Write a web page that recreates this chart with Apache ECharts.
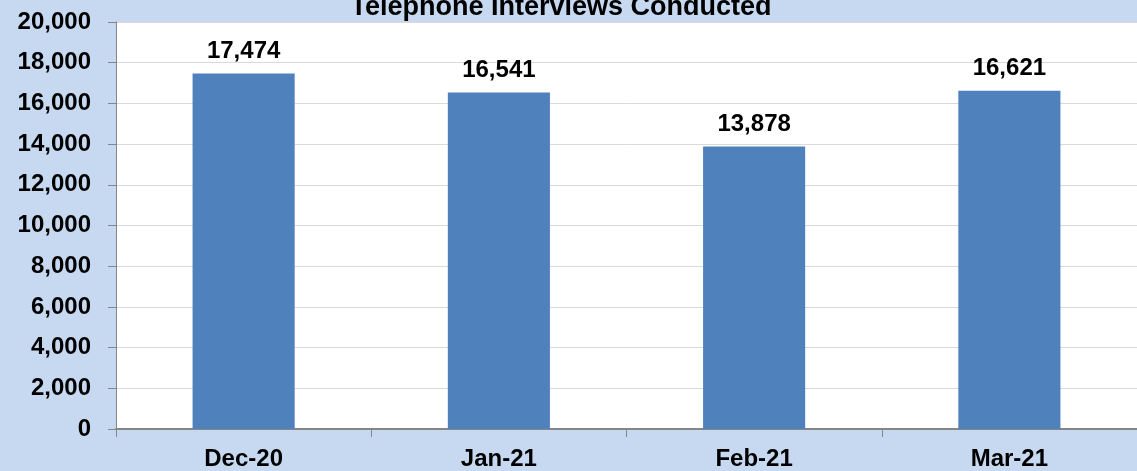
<!DOCTYPE html>
<html><head><meta charset="utf-8">
<script src="https://cdn.jsdelivr.net/npm/echarts@6/dist/echarts.min.js"></script>
<style>html,body{margin:0;padding:0;background:#c6d9f1}#c{width:1137px;height:471px}</style>
</head><body><div id="c"></div>
<script>
const categories = ['Dec-20', 'Jan-21', 'Feb-21', 'Mar-21'];
const interviews = [17474, 16541, 13878, 16621];
const titleText = 'Telephone Interviews Conducted';

const chart = echarts.init(document.getElementById('c'));
const font = 'Liberation Sans, Arial, sans-serif';
chart.setOption({
  backgroundColor: '#c6d9f1',
  animation: false,
  title: {
    text: titleText, left: 556, top: -11, textAlign: 'center',
    textStyle: {fontFamily: font, fontWeight: 'bold', fontSize: 27, color: '#000'}
  },
  grid: {left: 116, top: 22, right: 0, bottom: 41, show: true, backgroundColor: '#fff', borderWidth: 0},
  xAxis: {
    type: 'category', data: categories,
    axisLine: {lineStyle: {color: '#868686', width: 2}},
    axisTick: {show: true, length: 8, lineStyle: {color: '#868686', width: 1}},
    axisLabel: {fontFamily: font, fontWeight: 'bold', fontSize: 24, color: '#000', margin: 18}
  },
  yAxis: {
    type: 'value', min: 0, max: 20000, interval: 2000,
    axisLine: {show: true, lineStyle: {color: '#868686', width: 1}},
    axisTick: {show: true, length: 8, lineStyle: {color: '#868686'}},
    splitLine: {lineStyle: {color: '#d9d9d9', width: 1}},
    axisLabel: {fontFamily: font, fontWeight: 'bold', fontSize: 24, color: '#000', margin: 25,
      formatter: v => v.toLocaleString('en-US')}
  },
  series: [{
    type: 'bar', data: interviews, barWidth: '40%',
    itemStyle: {color: '#4f81bd'},
    label: {show: true, position: 'top', distance: 10, fontFamily: font, fontWeight: 'bold', fontSize: 24, color: '#000',
      formatter: p => p.value.toLocaleString('en-US')}
  }]
});
</script></body></html>
